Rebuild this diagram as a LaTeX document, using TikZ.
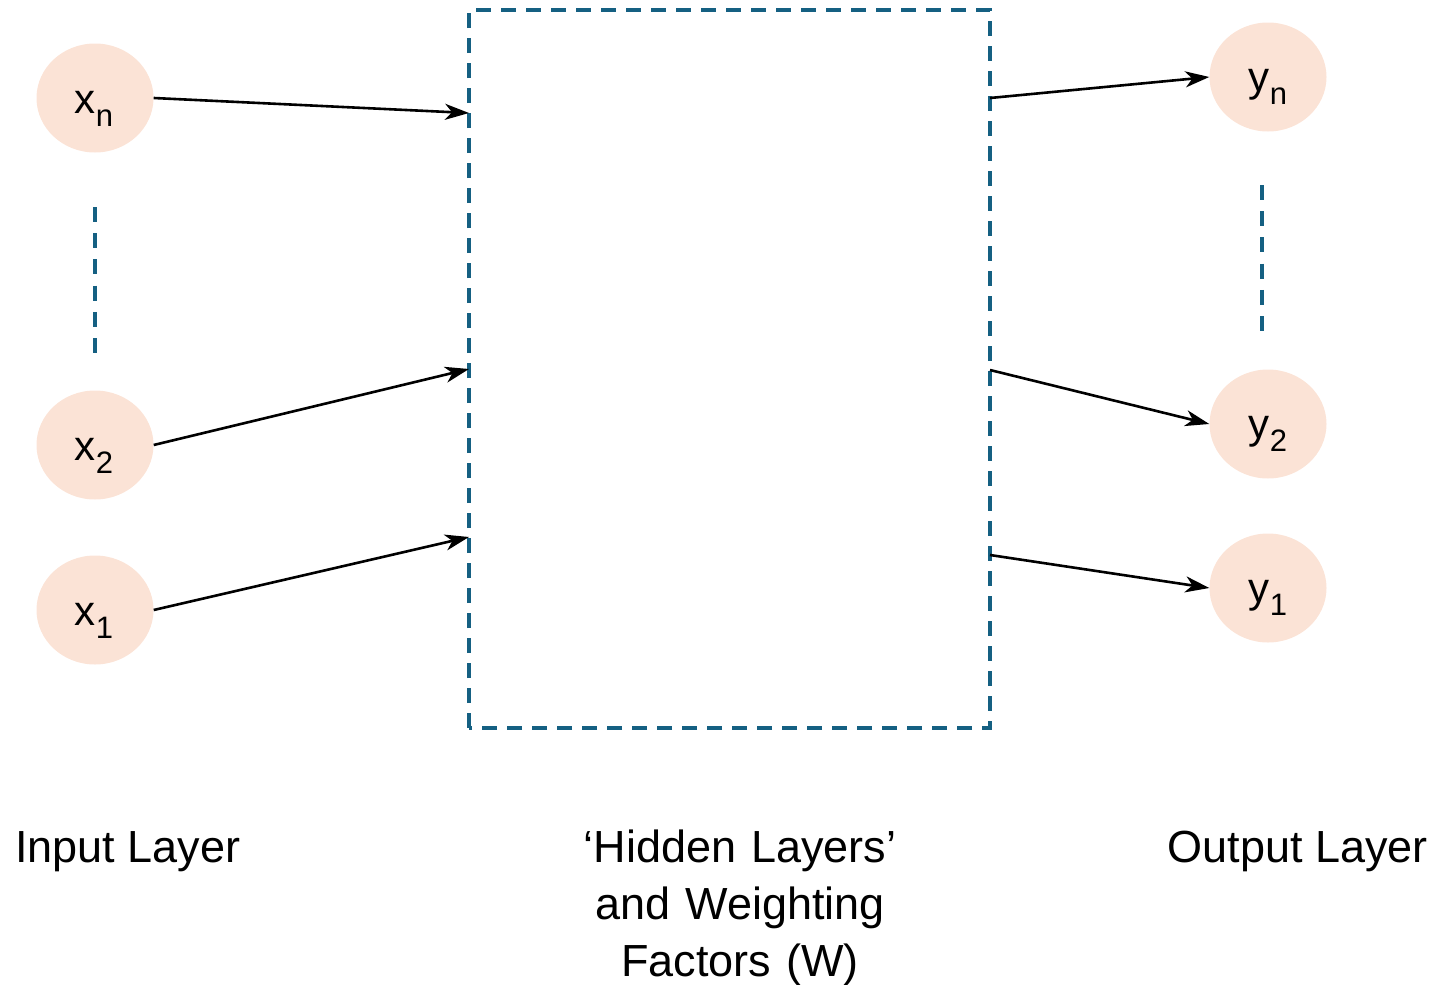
\documentclass[tikz,border=0pt]{standalone}
\usepackage{fontspec}
\setmainfont{Liberation Sans}
\usetikzlibrary{shapes.geometric,arrows.meta}
\definecolor{boxblue}{HTML}{156082}
\definecolor{nodefill}{HTML}{FBE3D6}
\newcommand{\sublab}[2]{{\fontsize{42}{42}\selectfont #1\raisebox{-13pt}{\fontsize{31}{31}\selectfont #2}}}
\tikzset{
  neuron/.style={ellipse, fill=nodefill, draw=none, minimum width=117pt, minimum height=109pt, inner sep=0pt},
  nlabel/.style={anchor=base, inner sep=0pt},
  hiddenbox/.style={draw=boxblue, line width=3.4pt, dash pattern=on 15pt off 10pt},
  dotsline/.style={draw=boxblue, line width=3.4pt, dash pattern=on 15pt off 11.2pt},
  conn/.style={draw=black, line width=2.6pt, -{Stealth[length=24pt,width=16pt,inset=7pt]}},
  caption/.style={inner sep=0pt, font=\fontsize{45}{57}\selectfont}
}
\begin{document}
\begin{tikzpicture}[x=1pt,y=-1pt]
\useasboundingbox (0,0) rectangle (1438,985);
% input neurons
\node[neuron] (xn) at (95,98) {};
\node[neuron] (x2) at (95,445) {};
\node[neuron] (x1) at (95,610) {};
\node[nlabel] (lxn) at (94,113) {\sublab{x}{n}};
\node[nlabel] (lx2) at (94,460) {\sublab{x}{2}};
\node[nlabel] (lx1) at (94,625) {\sublab{x}{1}};
% output neurons
\node[neuron] (yn) at (1268,77) {};
\node[neuron] (y2) at (1268,424) {};
\node[neuron] (y1) at (1268,588) {};
\node[nlabel] (lyn) at (1268,91) {\sublab{y}{n}};
\node[nlabel] (ly2) at (1268,438) {\sublab{y}{2}};
\node[nlabel] (ly1) at (1268,602) {\sublab{y}{1}};
% hidden box
\coordinate (bl) at (469,728);
\coordinate (tr) at (990,10);
\draw[hiddenbox] (bl) rectangle (tr);
% box contact points
\coordinate (inN) at (469,113);
\coordinate (in2) at (469,369);
\coordinate (in1) at (469,537);
\coordinate (outN) at (990,98);
\coordinate (out2) at (990,370);
\coordinate (out1) at (990,555);
% vertical dashed continuation lines
\coordinate (ldA) at (95,207);
\coordinate (ldB) at (95,353);
\coordinate (rdA) at (1262,185);
\coordinate (rdB) at (1262,332);
\draw[dotsline] (ldA) -- (ldB);
\draw[dotsline] (rdA) -- (rdB);
% connectors
\draw[conn] (xn.east) -- (inN);
\draw[conn] (x2.east) -- (in2);
\draw[conn] (x1.east) -- (in1);
\draw[conn] (outN) -- (yn.west);
\draw[conn] (out2) -- (y2.west);
\draw[conn] (out1) -- (y1.west);
% captions
\node[caption, anchor=base west] (cin) at (15,862) {Input Layer};
\node[caption, anchor=base east] (cout) at (1428,862) {Output Layer};
\node[caption, anchor=north, align=center, text width=500pt] (chid) at (740,830) {‘Hidden Layers’\\and Weighting\\Factors (W)};
\end{tikzpicture}
\end{document}
